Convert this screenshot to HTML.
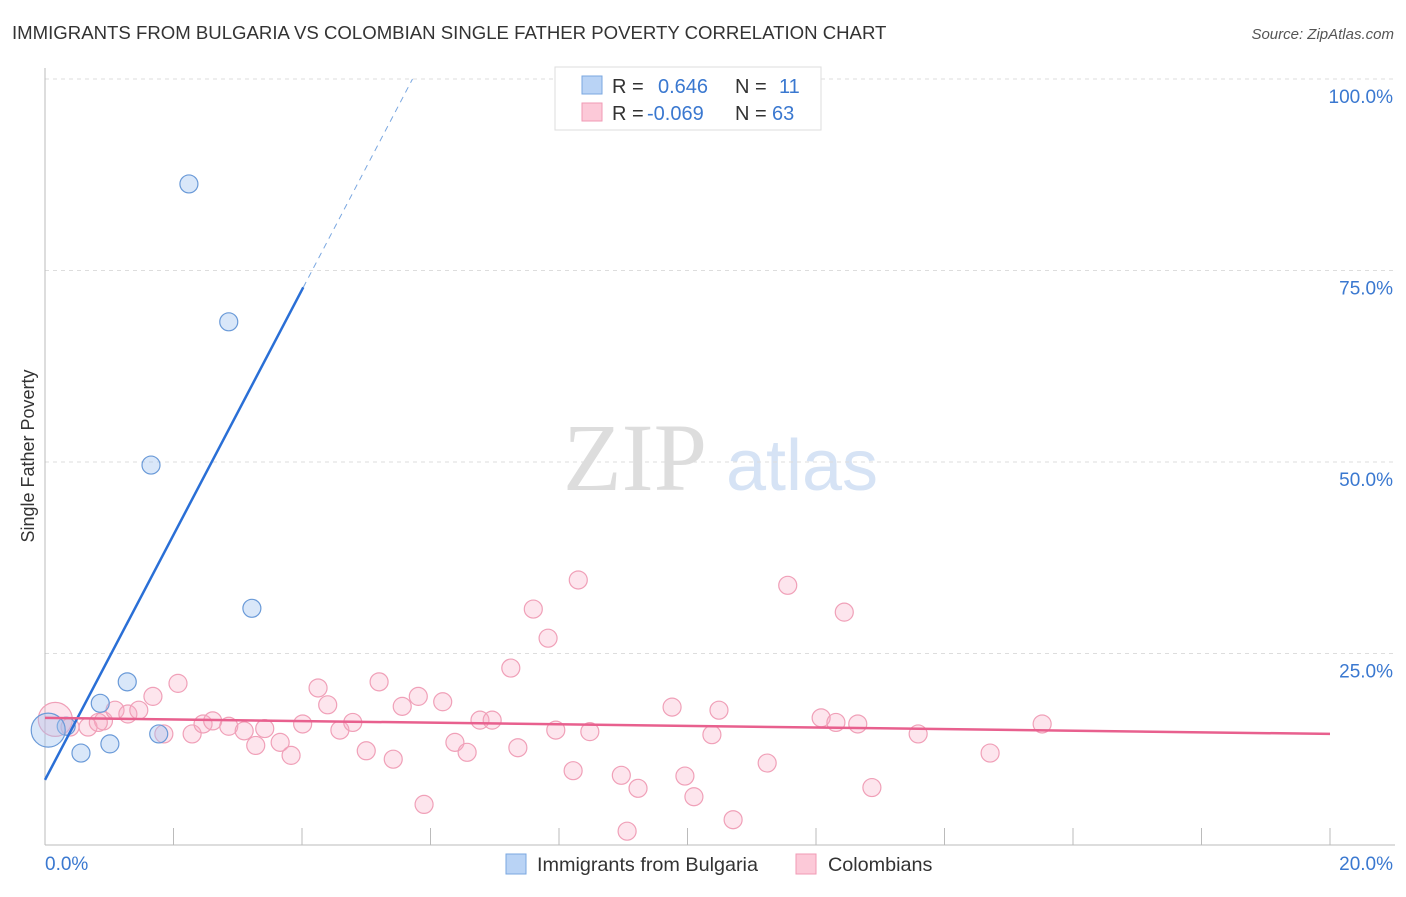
<!DOCTYPE html>
<html><head><meta charset="utf-8"><style>
body{margin:0;background:#fff;font-family:"Liberation Sans",sans-serif}
</style></head><body>
<svg id="c" width="1406" height="892" xmlns="http://www.w3.org/2000/svg">
<text x="12" y="39" font-size="18.6" fill="#333">IMMIGRANTS FROM BULGARIA VS COLOMBIAN SINGLE FATHER POVERTY CORRELATION CHART</text>
<text x="1394" y="39" font-size="15" fill="#555" font-style="italic" text-anchor="end">Source: ZipAtlas.com</text>
<text x="635" y="490" font-size="96" fill="#ddd" font-family="Liberation Serif" text-anchor="middle">ZIP</text>
<text x="802" y="490" font-size="72" fill="#d6e3f5" text-anchor="middle">atlas</text>
<text transform="translate(34,456) rotate(-90)" font-size="18" fill="#333" text-anchor="middle">Single Father Poverty</text>
<g id="grid"></g><g id="pts"></g><g id="lines"></g>
<g>
<rect x="555" y="67" width="266" height="63" fill="#fff" stroke="#ddd"/>
<rect x="582" y="76" width="20" height="18" fill="#b9d3f5" stroke="#7aa7e0"/>
<rect x="582" y="103" width="20" height="18" fill="#fcc9d8" stroke="#f09ab5"/>
<text x="612" y="93" font-size="20" fill="#333">R = <tspan fill="#3a78d0" x="658">0.646</tspan><tspan x="735" fill="#333">N = </tspan><tspan x="779" fill="#3a78d0">11</tspan></text>
<text x="612" y="120" font-size="20" fill="#333">R = <tspan fill="#3a78d0" x="647">-0.069</tspan><tspan x="735" fill="#333">N = </tspan><tspan x="772" fill="#3a78d0">63</tspan></text>
</g>
<g>
<rect x="506" y="854" width="20" height="20" fill="#b9d3f5" stroke="#7aa7e0"/>
<text x="537" y="871" font-size="19.8" fill="#333">Immigrants from Bulgaria</text>
<rect x="796" y="854" width="20" height="20" fill="#fcc9d8" stroke="#f09ab5"/>
<text x="828" y="871" font-size="19.8" fill="#333">Colombians</text>
</g>
<text x="45" y="870" font-size="19" fill="#3a78d0">0.0%</text>
<text x="1393" y="870" font-size="19" fill="#3a78d0" text-anchor="end">20.0%</text>
</svg>
<script>
const yTicks=[100,75,50,25];
const yTickLabels=["100.0%","75.0%","50.0%","25.0%"];
const blueX=[2.24,2.86,1.65,3.22,1.28,0.86,1.01,0.56,1.77,0.33,0.05];
const blueY=[86.3,68.3,49.6,30.9,21.3,18.5,13.2,12.0,14.5,15.5,15.0];
const pinkX=[0.16,0.39,0.67,0.91,1.09,1.29,1.46,1.68,1.85,2.07,2.29,2.46,2.61,2.86,3.10,3.28,3.42,3.66,3.83,4.01,4.25,4.40,4.59,4.79,5.00,5.20,5.42,5.56,5.81,5.90,6.19,6.38,6.57,6.77,6.96,7.25,7.36,7.60,7.83,7.95,8.22,8.30,8.48,8.97,9.06,9.23,9.76,9.96,10.10,10.38,10.49,10.71,11.24,11.56,12.08,12.31,12.44,12.65,12.87,13.59,14.71,15.52,0.83];
const pinkY=[16.4,15.4,15.4,16.2,17.6,17.1,17.6,19.4,14.5,21.1,14.5,15.8,16.2,15.5,14.9,13.0,15.2,13.4,11.7,15.8,20.5,18.3,15.0,16.0,12.3,21.3,11.2,18.1,19.4,5.3,18.7,13.4,12.1,16.3,16.3,23.1,12.7,30.8,27.0,15.0,9.7,34.6,14.8,9.1,1.8,7.4,18.0,9.0,6.3,14.4,17.6,3.3,10.7,33.9,16.6,16.0,30.4,15.8,7.5,14.5,12.0,15.8,16.0];
const blueLine=[[0,8.5],[4.02,72.8]], blueDash=[[4.02,72.8],[5.72,100]];
const pinkLine=[[0,16.6],[20,14.5]];
const sx=v=>45+v/20*1285, sy=v=>845-v*7.66;
const NS="http://www.w3.org/2000/svg";
function mk(t,a,p){const e=document.createElementNS(NS,t);for(const k in a)e.setAttribute(k,a[k]);p.appendChild(e);return e;}
const g=document.getElementById('grid');
yTicks.forEach((t,i)=>{
 const l=mk('line',{x1:45,x2:1395,y1:sy(t),y2:sy(t),stroke:'#ddd','stroke-dasharray':'4,4'},g);
 
 
 const tx=mk('text',{x:1393,y:sy(t)+24,'font-size':19,fill:'#3a78d0','text-anchor':'end'},g);
 tx.textContent=yTickLabels[i];
 
 
});
mk('line',{x1:45,x2:45,y1:68,y2:845,stroke:'#bbb'},g);
mk('line',{x1:45,x2:1395,y1:845,y2:845,stroke:'#bbb'},g);
for(let i=0;i<=10;i++){const t=mk('line',{x1:sx(i*2),x2:sx(i*2),y1:828,y2:845,stroke:'#bbb'},g);
 
 }
const p=document.getElementById('pts');
pinkX.forEach((x,i)=>{const c=mk('circle',{cx:sx(x),cy:sy(pinkY[i]),r:i==0?17:9,fill:'rgba(248,170,195,0.3)',stroke:'#f0a0b8','stroke-width':1.2},p);
 
 });
blueX.forEach((x,i)=>{const c=mk('circle',{cx:sx(x),cy:sy(blueY[i]),r:i==10?17:9,fill:'rgba(160,195,240,0.4)',stroke:'#6a9ad8','stroke-width':1.2},p);
 
 });
const L=document.getElementById('lines');
const b=mk('line',{x1:sx(blueLine[0][0]),y1:sy(blueLine[0][1]),x2:sx(blueLine[1][0]),y2:sy(blueLine[1][1]),stroke:'#2a6fd6','stroke-width':2.5},L);


const bd=mk('line',{x1:sx(blueDash[0][0]),y1:sy(blueDash[0][1]),x2:sx(blueDash[1][0]),y2:sy(blueDash[1][1]),stroke:'#7aa7e0','stroke-width':1,'stroke-dasharray':'6,5'},L);


const pl=mk('line',{x1:sx(pinkLine[0][0]),y1:sy(pinkLine[0][1]),x2:sx(pinkLine[1][0]),y2:sy(pinkLine[1][1]),stroke:'#e8608e','stroke-width':2.5},L);


</script>
</body></html>
